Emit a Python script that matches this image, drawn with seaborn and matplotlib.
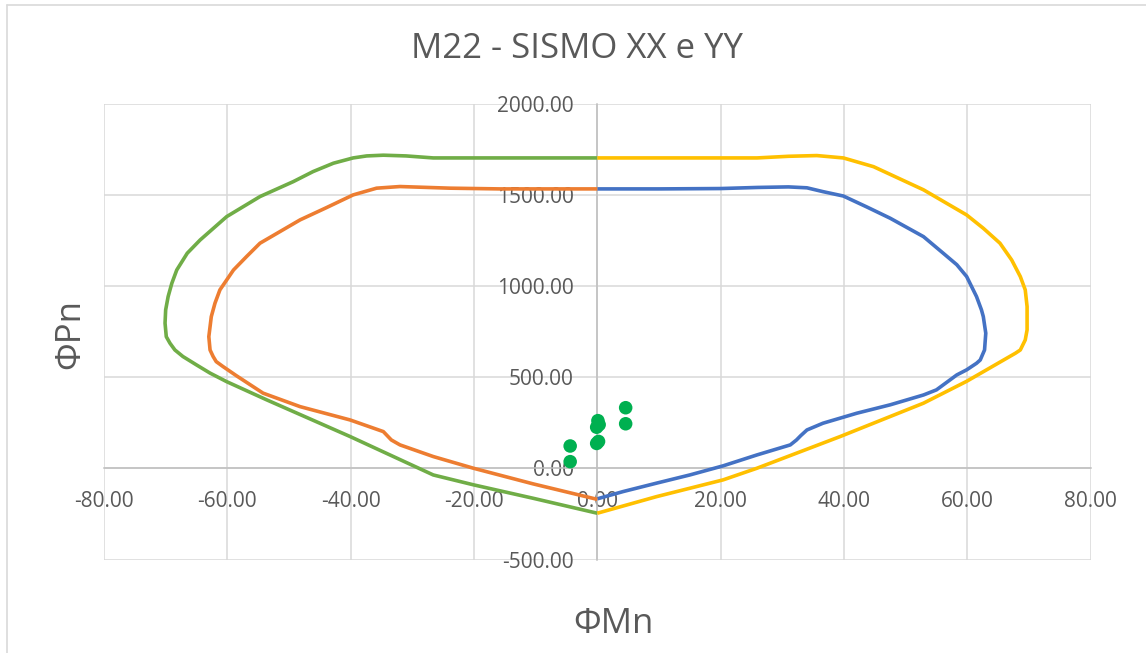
import matplotlib
matplotlib.use("Agg")
import matplotlib.pyplot as plt
from matplotlib.lines import Line2D
import seaborn as sns
import pandas as pd

# Interaction diagram curves (ΦMn, ΦPn)
blue_m = [0, 10, 20, 26, 31, 34, 36.6, 39.9, 43.7, 47.5, 52.9, 56.1, 58.3, 59.9, 61.5,
          62.3, 62.6, 63.0, 62.8, 62.1, 61.5, 59.9, 58.3, 55.0, 52.9, 47.5, 42.1, 36.6,
          34.0, 33.0, 32.3, 31.3, 25.9, 20.4, 15.0, 9.6, 4.2, 0]
blue_p = [1534, 1534, 1536, 1542, 1545, 1540, 1519, 1495, 1435, 1373, 1272, 1181, 1118,
          1053, 943, 870, 833, 742, 650, 595, 577, 541, 513, 431, 403, 349, 303, 248,
          211, 180, 156, 129, 74, 14, -36, -81, -127, -167]

orange_m = [0, -15.8, -23.9, -32.0, -35.8, -39.6, -44.0, -48.2, -54.7, -56.9, -59.0,
            -61.2, -62.0, -62.6, -63.0, -62.8, -62.3, -61.8, -60.7, -58.5, -54.2, -48.2,
            -40.1, -34.7, -33.4, -32.0, -26.6, -20.1, -10.4, 0]
orange_p = [1534, 1534, 1538, 1547, 1538, 1501, 1430, 1364, 1236, 1162, 1089,
            980, 907, 833, 723, 650, 614, 586, 559, 508, 413, 339,
            266, 202, 156, 129, 65, 1, -85, -170]

green_m = [0, -15, -26.6, -31, -34.7, -37.4, -39.6, -42.8, -46.1, -49.3, -54.7, -60.1,
           -64.4, -66.5, -68.2, -69.0, -69.6, -70.0, -70.1, -69.9, -69.3, -68.5, -67.2,
           -65.0, -62.8, -60.1, -53.6, -40.1, -26.6, -20.1, -10.4, 0]
green_p = [1704, 1704, 1704, 1715, 1719, 1715, 1704, 1675, 1629, 1574, 1492, 1382,
           1254, 1181, 1089, 1016, 943, 870, 797, 723, 687, 650, 614,
           568, 523, 476, 376, 175, -36, -90, -164, -246]

yellow_m = [0, 15, 25.9, 31, 35.6, 39.9, 44.8, 52.9, 59.9, 62.6, 65.3, 67.2, 68.6,
            69.4, 69.7, 69.7, 69.4, 68.6, 67.8, 65.9, 59.9, 52.9, 39.4, 25.9, 20.4,
            9.6, 0]
yellow_p = [1704, 1704, 1704, 1713, 1717, 1704, 1656, 1529, 1391, 1318, 1236, 1144,
            1053, 980, 888, 760, 705, 650, 632, 595, 478, 358, 175, 1, -63,
            -155, -246]

# Design loads
load_m = [-4.4, -4.4, 0.1, 0.3, -0.1, 0.2, -0.1, 4.6, 4.6]
load_p = [123, 37, 262, 240, 226, 148, 137, 333, 245]

x_ticks = [-80, -60, -40, -20, 0, 20, 40, 60, 80]
y_ticks = [-500, 0, 500, 1000, 1500, 2000]

title = "M22 - SISMO XX e YY"
x_label = "ΦMn"
y_label = "ΦPn"

sns.set_theme(style="white")
plt.rcParams["font.family"] = ["Open Sans", "DejaVu Sans"]
text_color = "#595959"

fig = plt.figure(figsize=(11.46, 6.53), dpi=100)
ax = fig.add_axes([104 / 1146, 1 - 559.5 / 653, (1090.6 - 104) / 1146, (559.5 - 104) / 653])

curves = [
    (blue_m, blue_p, "#4472C4"),
    (orange_m, orange_p, "#ED7D31"),
    (green_m, green_p, "#70AD47"),
    (yellow_m, yellow_p, "#FFC000"),
]
for m, p, c in curves:
    df = pd.DataFrame({"M": m, "P": p})
    sns.lineplot(data=df, x="M", y="P", sort=False, estimator=None, color=c,
                 linewidth=2.6, ax=ax, zorder=3, solid_joinstyle="round",
                 solid_capstyle="butt")

sns.scatterplot(x=load_m, y=load_p, color="#00B050", s=95, edgecolor="none",
                ax=ax, zorder=4)

ax.set_xlim(-80, 80)
ax.set_ylim(-500, 2000)
ax.set_xticks(x_ticks)
ax.set_yticks(y_ticks)
ax.set_xticklabels([f"{v:.2f}" for v in x_ticks])
ax.set_yticklabels([f"{v:.2f}" for v in y_ticks])
ax.grid(True, color="#D9D9D9", linewidth=1.1)
ax.set_axisbelow(True)

for s in ("top", "right"):
    ax.spines[s].set_visible(False)
ax.spines["left"].set_position(("data", 0))
ax.spines["bottom"].set_position(("data", 0))
for s in ("left", "bottom"):
    ax.spines[s].set_color("#BFBFBF")
    ax.spines[s].set_linewidth(1.1)
    ax.spines[s].set_zorder(2.5)

ax.tick_params(axis="both", length=0, labelsize=15, labelcolor=text_color)
ax.tick_params(axis="y", pad=17)
ax.tick_params(axis="x", pad=16)
ax.set_xlabel("")
ax.set_ylabel("")

fig.text(577 / 1146, 1 - 49 / 653, title, ha="center", va="center",
         fontsize=25, color=text_color)
fig.text(613 / 1146, 1 - 624 / 653, x_label, ha="center", va="center",
         fontsize=25, color=text_color)
fig.text(70 / 1146, 1 - 334 / 653, y_label, ha="center", va="center",
         fontsize=25, color=text_color, rotation=90)

# chart area frame
fig.add_artist(Line2D([7 / 1146, 1], [1 - 5 / 653] * 2, color="#D9D9D9", lw=1.2,
                      transform=fig.transFigure))
fig.add_artist(Line2D([7 / 1146] * 2, [0, 1 - 5 / 653], color="#D9D9D9", lw=1.2,
                      transform=fig.transFigure))

fig.savefig("out.png", dpi=100)
